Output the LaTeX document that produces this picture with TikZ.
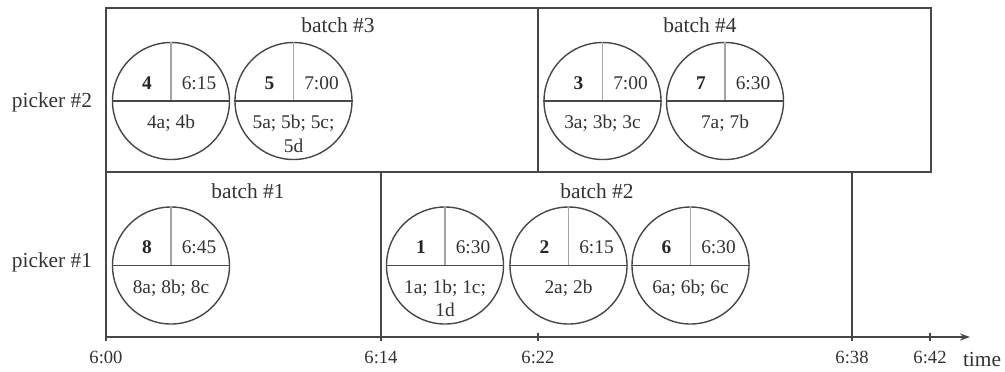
\documentclass[tikz,border=0pt]{standalone}
\usepackage{fontspec}
\setmainfont{Liberation Serif}
\usetikzlibrary{arrows.meta,positioning,calc}

\begin{document}
\begin{tikzpicture}[
  x=0.5pt,y=-0.5pt,
  frame/.style={draw=black!72,line width=0.7pt},
  order/.style={circle,draw=black!72,line width=0.7pt,minimum size=58.5pt,inner sep=0pt},
  split/.style={draw=black!35,line width=0.6pt},
  num/.style={font=\fontsize{9.7}{11.6}\selectfont\bfseries,text=black!85},
  due/.style={font=\fontsize{9.7}{11.6}\selectfont,text=black!80},
  items/.style={font=\fontsize{9.7}{11.6}\selectfont,text=black!80,align=center,anchor=north,inner sep=0pt},
  lbl/.style={font=\fontsize{10.7}{12.8}\selectfont,text=black!80},
  ticklbl/.style={font=\fontsize{9.3}{11}\selectfont,text=black!80}
]
\useasboundingbox (0,0) rectangle (1005,371);

% batches, picker #2 on top and picker #1 below
\draw[frame] (106,8) rectangle (538,172);
\draw[frame] (538,8) rectangle (931,172);
\draw[frame] (106,172) rectangle (381,337);
\draw[frame] (381,172) rectangle (852,337);

\node[lbl] (b3) at (338,25) {batch \#3};
\node[lbl] (b4) at (700,25) {batch \#4};
\node[lbl] (b1) at (248,191) {batch \#1};
\node[lbl] (b2) at (597,191) {batch \#2};

\node[lbl] (p2) at (52,102) {picker \#2};
\node[lbl] (p1) at (52,262) {picker \#1};

% orders: id / centre / due time / items
\foreach \id/\cx/\cy/\due/\lst in {
    4/171/101/6:15/{4a; 4b},
    5/293.5/101/7:00/{5a; 5b; 5c;\\5d},
    3/602.5/101/7:00/{3a; 3b; 3c},
    7/725/101/6:30/{7a; 7b},
    8/171/265.5/6:45/{8a; 8b; 8c},
    1/445/265.5/6:30/{1a; 1b; 1c;\\1d},
    2/568.5/265.5/6:15/{2a; 2b},
    6/690.5/265.5/6:30/{6a; 6b; 6c}}{
  \node[order] (o\id) at (\cx,\cy) {};
  \draw[split] (o\id.north) -- (o\id.center);
  \draw[frame] (o\id.west) -- (o\id.east);
  \node[num] (n\id) at ($(o\id.center)+(-24,-18)$) {\id};
  \node[due] (d\id) at ($(o\id.center)+(28,-18)$) {\due};
  \node[items] (i\id) at ($(o\id.center)+(0,14)$) {\lst};
}

% time axis
\coordinate (t0) at (106,337);
\coordinate (tend) at (970,337);
\draw[frame,-{Stealth[length=5pt,width=3.5pt]}] (t0) -- (tend);
\foreach \x/\t in {106/6:00,381/6:14,538/6:22,852/6:38,930/6:42}{
  \draw[frame] (\x,333) -- (\x,341);
  \node[ticklbl] (tl\x) at (\x,357) {\t};
}
\node[lbl] (time) at (982,360) {time};
\end{tikzpicture}
\end{document}
